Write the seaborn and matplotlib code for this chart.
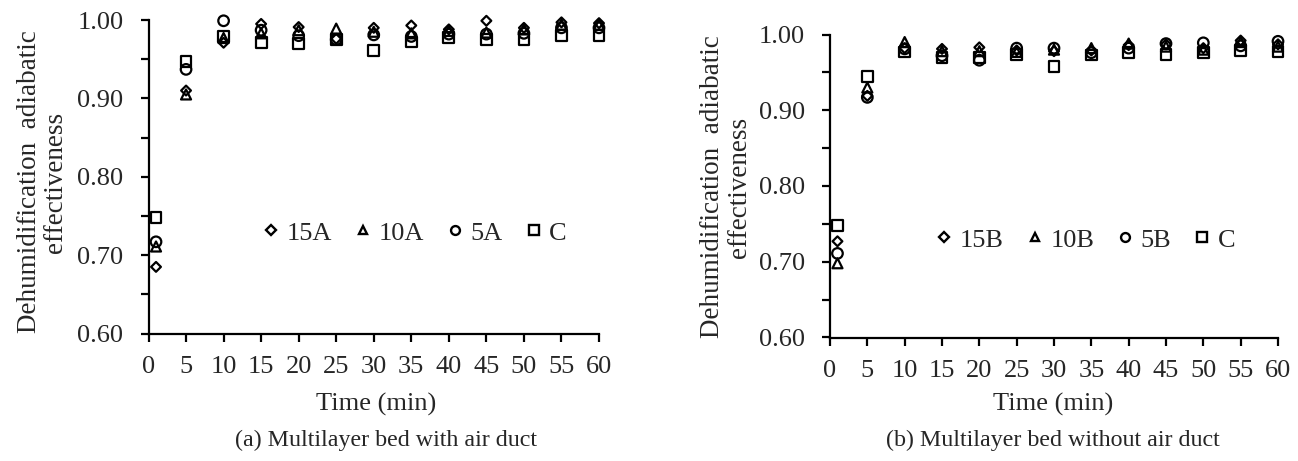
import numpy as np
import pandas as pd
import matplotlib
matplotlib.use("Agg")
import matplotlib.pyplot as plt
from matplotlib.lines import Line2D
from matplotlib.ticker import MultipleLocator, FormatStrFormatter
import seaborn as sns

sns.set_theme(style="white")
plt.rcParams['font.family'] = ['Liberation Serif', 'DejaVu Serif']

# ---------------- data ----------------
time_min = [1, 5, 10, 15, 20, 25, 30, 35, 40, 45, 50, 55, 60]

labels_a = ["15A", "10A", "5A", "C"]
a_15A = [0.685, 0.910, 0.971, 0.995, 0.991, 0.976, 0.990, 0.993, 0.988, 0.999, 0.990, 0.997, 0.996]
a_10A = [0.711, 0.905, 0.977, 0.983, 0.987, 0.989, 0.985, 0.983, 0.986, 0.984, 0.988, 0.994, 0.994]
a_5A  = [0.717, 0.937, 0.999, 0.987, 0.980, 0.975, 0.981, 0.979, 0.982, 0.982, 0.983, 0.990, 0.990]
a_C   = [0.748, 0.947, 0.979, 0.971, 0.970, 0.975, 0.961, 0.972, 0.978, 0.975, 0.975, 0.980, 0.980]

labels_b = ["15B", "10B", "5B", "C"]
b_15B = [0.727, 0.919, 0.982, 0.981, 0.983, 0.979, 0.978, 0.979, 0.986, 0.987, 0.982, 0.992, 0.987]
b_10B = [0.698, 0.930, 0.990, 0.978, 0.978, 0.977, 0.980, 0.982, 0.988, 0.984, 0.980, 0.990, 0.984]
b_5B  = [0.711, 0.917, 0.981, 0.972, 0.966, 0.982, 0.982, 0.976, 0.982, 0.988, 0.989, 0.985, 0.991]
b_C   = [0.748, 0.945, 0.977, 0.970, 0.970, 0.974, 0.958, 0.973, 0.976, 0.974, 0.976, 0.979, 0.978]

x_ticks = list(range(0, 61, 5))
y_label = "Dehumidification  adiabatic\neffectiveness"
x_label = "Time (min)"
caption_a = "(a) Multilayer bed with air duct"
caption_b = "(b) Multilayer bed without air duct"

# ---------------- styling ----------------
markers = ["D", "^", "o", "s"]
msizes = [5.0, 7.2, 7.6, 7.8]     # points
legend_ms = [4.6, 6.0, 6.4, 6.6]
FS = 19

W, H = 1298, 461
fig = plt.figure(figsize=(W / 100, H / 100), dpi=100)


def px_axes(x0, x1, ytop, ybot):
    return fig.add_axes([x0 / W, 1 - ybot / H, (x1 - x0) / W, (ybot - ytop) / H])


def draw(ax, labels, series, leg_xy):
    df = pd.DataFrame({
        "time": np.tile(time_min, len(labels)),
        "value": np.concatenate(series),
        "series": np.repeat(labels, len(time_min)),
    })
    for lab, mk, ms in zip(labels, markers, msizes):
        sub = df[df["series"] == lab]
        sns.scatterplot(data=sub, x="time", y="value", ax=ax, marker=mk,
                        s=ms ** 2, facecolor="none", edgecolor="black",
                        linewidth=1.6, legend=False, clip_on=False, zorder=3)
    ax.set_xlim(0, 60)
    ax.set_ylim(0.60, 1.00)
    ax.set_xticks(x_ticks)
    ax.yaxis.set_major_locator(MultipleLocator(0.10))
    ax.yaxis.set_minor_locator(MultipleLocator(0.05))
    ax.yaxis.set_major_formatter(FormatStrFormatter("%.2f"))
    ax.set_xlabel("")
    ax.set_ylabel("")
    for s in ["top", "right"]:
        ax.spines[s].set_visible(False)
    for s in ["left", "bottom"]:
        ax.spines[s].set_color("black")
        ax.spines[s].set_linewidth(1.6)
    ax.tick_params(axis="both", which="both", direction="out", length=6,
                   width=1.6, color="black", labelsize=FS,
                   left=True, bottom=True)
    ax.tick_params(axis="y", which="major", pad=12)
    ax.tick_params(axis="x", which="major", pad=10.5)
    handles = [Line2D([], [], linestyle="none", marker=mk, markersize=lm,
                      markerfacecolor="none", markeredgecolor="black",
                      markeredgewidth=1.7, label=lab)
               for lab, mk, lm in zip(labels, markers, legend_ms)]
    ax.legend(handles=handles, loc="center", bbox_to_anchor=leg_xy, ncol=4,
              frameon=False, fontsize=FS, handlelength=0.6, handletextpad=0.3,
              columnspacing=0.86, borderaxespad=0, borderpad=0)


ax1 = px_axes(148.5, 599, 20, 333.5)
draw(ax1, labels_a, [a_15A, a_10A, a_5A, a_C], (0.592, 0.321))

ax2 = px_axes(830, 1278, 34.5, 337.5)
draw(ax2, labels_b, [b_15B, b_10B, b_5B, b_C], (0.571, 0.322))

fig.text(42.5 / W, 1 - 182 / H, y_label, rotation=90, ha="center", va="center",
         fontsize=19.5, linespacing=1.07)
fig.text(726 / W, 1 - 187 / H, y_label, rotation=90, ha="center", va="center",
         fontsize=19.5, linespacing=1.07)
fig.text(376 / W, 1 - 404 / H, x_label, ha="center", va="center", fontsize=FS)
fig.text(1053 / W, 1 - 404 / H, x_label, ha="center", va="center", fontsize=FS)
fig.text(386 / W, 1 - 440 / H, caption_a, ha="center", va="center", fontsize=17.3)
fig.text(1053 / W, 1 - 440 / H, caption_b, ha="center", va="center", fontsize=17.3)

fig.savefig("out.png", dpi=100)
